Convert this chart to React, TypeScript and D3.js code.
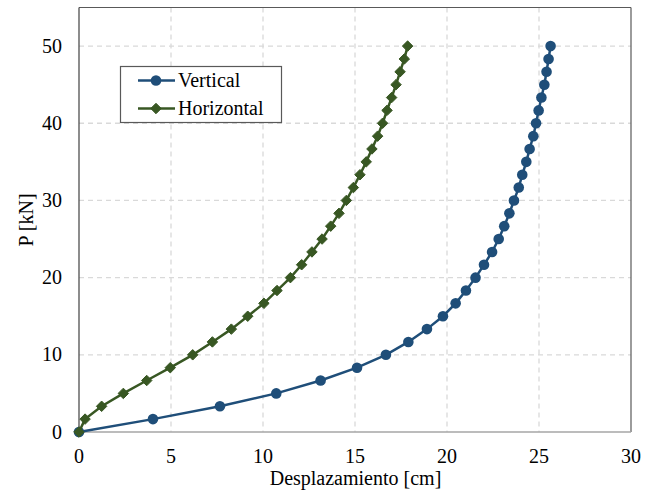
import React from "react";
import * as d3 from "d3";

const loads = [0, 1.67, 3.33, 5, 6.67, 8.33, 10, 11.67, 13.33, 15, 16.67, 18.33, 20, 21.67, 23.33, 25, 26.67, 28.33, 30, 31.67, 33.33, 35, 36.67, 38.33, 40, 41.67, 43.33, 45, 46.67, 48.33, 50];
const verticalDisp = [0, 4.02, 7.66, 10.72, 13.13, 15.11, 16.68, 17.9, 18.91, 19.78, 20.47, 21.03, 21.55, 22.01, 22.45, 22.81, 23.11, 23.39, 23.64, 23.9, 24.09, 24.31, 24.49, 24.69, 24.84, 24.98, 25.13, 25.29, 25.41, 25.52, 25.63];
const horizontalDisp = [0, 0.33, 1.23, 2.41, 3.68, 4.96, 6.18, 7.25, 8.28, 9.17, 10.05, 10.76, 11.49, 12.1, 12.66, 13.21, 13.68, 14.13, 14.53, 14.91, 15.27, 15.61, 15.92, 16.23, 16.5, 16.74, 16.99, 17.23, 17.45, 17.68, 17.86];
const xTicks = [0, 5, 10, 15, 20, 25, 30];
const yTicks = [0, 10, 20, 30, 40, 50];
const seriesNames = ["Vertical", "Horizontal"];
const colors = ["#1F4E79", "#385723"];

const W = 651, H = 497;
const left = 79, right = 631, top = 7.5, bottom = 432;
const FONT = "'Liberation Serif', 'Times New Roman', serif";

export default function App() {
  const x = d3.scaleLinear().domain([0, 30]).range([left, right]);
  const y = d3.scaleLinear().domain([0, 55]).range([bottom, top]);
  const line = d3.line<[number, number]>().x(d => x(d[0])).y(d => y(d[1]));
  const vPts: [number, number][] = verticalDisp.map((v, i) => [v, loads[i]]);
  const hPts: [number, number][] = horizontalDisp.map((v, i) => [v, loads[i]]);
  const diamond = d3.symbol().type(d3.symbolDiamond2).size(70)();
  const diamondSmall = d3.symbol().type(d3.symbolDiamond2).size(70)();

  return (
    <svg width={W} height={H} style={{ position: "absolute", left: 0, top: 0, background: "#fff" }} fontFamily={FONT}>
      <rect x={0} y={0} width={W} height={H} fill="#fff" />
      {/* grid */}
      {xTicks.filter(t => t > 0 && t < 30).map(t => (
        <line key={"gx" + t} x1={x(t)} x2={x(t)} y1={top} y2={bottom} stroke="#d9d9d9" strokeWidth={1.3} strokeDasharray="5,4" />
      ))}
      {yTicks.filter(t => t > 0).map(t => (
        <line key={"gy" + t} x1={left} x2={right} y1={y(t)} y2={y(t)} stroke="#d9d9d9" strokeWidth={1.3} strokeDasharray="5,4" />
      ))}
      {/* frame */}
      <line x1={left} x2={right} y1={top} y2={top} stroke="#595959" strokeWidth={1.2} />
      <line x1={right} x2={right} y1={top} y2={bottom} stroke="#595959" strokeWidth={1.2} />
      <line x1={left} x2={right} y1={bottom} y2={bottom} stroke="#a6a6a6" strokeWidth={1.5} />
      <line x1={left} x2={left} y1={top} y2={bottom} stroke="#404040" strokeWidth={1.2} />
      {/* tick labels */}
      {xTicks.map(t => (
        <text key={"tx" + t} x={x(t)} y={463} textAnchor="middle" fontSize={20} fill="#000">{t}</text>
      ))}
      {yTicks.map(t => (
        <text key={"ty" + t} x={62} y={y(t) + 6.5} textAnchor="end" fontSize={20} fill="#000">{t}</text>
      ))}
      {/* axis titles */}
      <text x={(left + right) / 2 + 0.5} y={485} textAnchor="middle" fontSize={20} fill="#000">Desplazamiento [cm]</text>
      <text transform={`translate(33,220) rotate(-90)`} textAnchor="middle" fontSize={20} fill="#000">P [kN]</text>
      {/* series */}
      <path d={line(vPts) || ""} fill="none" stroke={colors[0]} strokeWidth={2.5} />
      {vPts.map((p, i) => (
        <circle key={"v" + i} cx={x(p[0])} cy={y(p[1])} r={5.3} fill={colors[0]} />
      ))}
      <path d={line(hPts) || ""} fill="none" stroke={colors[1]} strokeWidth={2.5} />
      {hPts.map((p, i) => (
        <path key={"h" + i} d={diamond || ""} transform={`translate(${x(p[0])},${y(p[1])})`} fill={colors[1]} stroke={colors[1]} strokeWidth={1} />
      ))}
      {/* legend */}
      <rect x={120.5} y={66.5} width={161} height={56} fill="#fff" stroke="#595959" strokeWidth={1.2} />
      <line x1={138} x2={175} y1={80.5} y2={80.5} stroke={colors[0]} strokeWidth={2.5} />
      <circle cx={156} cy={80.5} r={5.3} fill={colors[0]} />
      <text x={178} y={87} fontSize={20} fill="#000">{seriesNames[0]}</text>
      <line x1={138} x2={175} y1={108.5} y2={108.5} stroke={colors[1]} strokeWidth={2.5} />
      <path d={diamondSmall || ""} transform={`translate(156,108.5)`} fill={colors[1]} stroke={colors[1]} strokeWidth={1} />
      <text x={178} y={115} fontSize={20} fill="#000">{seriesNames[1]}</text>
    </svg>
  );
}
